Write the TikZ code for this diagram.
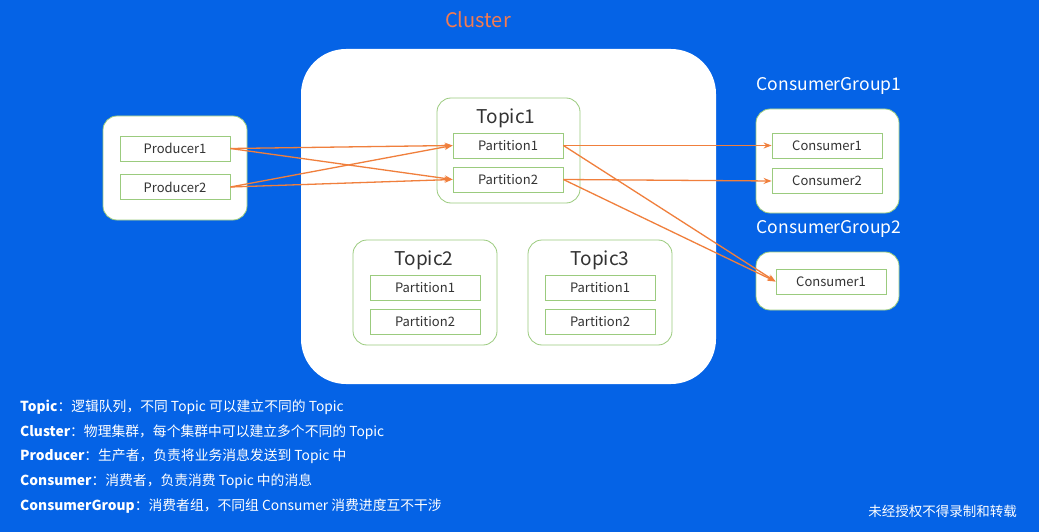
\documentclass[tikz,border=0pt]{standalone}
\usepackage{fontspec}
\setmainfont{Noto Sans CJK SC}
\usetikzlibrary{arrows.meta}
\definecolor{bg}{HTML}{0563E6}
\definecolor{gborder}{HTML}{9BCB7E}
\definecolor{arr}{HTML}{F07F3C}
\definecolor{ctitle}{HTML}{F47B4F}
\definecolor{txt}{HTML}{333333}
\begin{document}
\begin{tikzpicture}[x=1pt,y=-1pt,
  group/.style={draw=gborder, line width=0.8pt, fill=white, rounded corners=14pt, inner sep=0pt},
  part/.style={draw=gborder, line width=0.8pt, fill=white, minimum width=110pt, minimum height=25pt, inner sep=0pt, font=\fontsize{13}{15}\selectfont, text=txt},
  ttl/.style={font=\fontsize{19}{22}\selectfont, text=txt},
  wttl/.style={font=\fontsize{17.5}{21}\selectfont, text=white},
  desc/.style={anchor=west, text=white, font=\fontsize{13.8}{16}\selectfont, inner sep=0pt},
  flow/.style={draw=arr, line width=1.3pt, -{Stealth[length=8pt,width=6pt]}}]
\fill[bg] (0,0) rectangle (1039,532);
\useasboundingbox (0,0) rectangle (1039,532);
% cluster
\node[font=\fontsize{20}{24}\selectfont, text=ctitle] (ctitle) at (478,20) {Cluster};
\node[fill=white, rounded corners=45pt, minimum width=415pt, minimum height=335pt, inner sep=0pt] (cluster) at (508.5,216.5) {};
% producers
\node[group, minimum width=144pt, minimum height=104pt] (pg) at (175,168) {};
\node[part] (p1) at (175,148.5) {Producer1};
\node[part] (p2) at (175,187) {Producer2};
% topic1
\node[group, minimum width=143pt, minimum height=105pt] (t1) at (508.5,150.5) {};
\node[ttl] (t1t) at (506,118) {Topic1};
\node[part] (t1p1) at (508,145.5) {Partition1};
\node[part] (t1p2) at (508,179.5) {Partition2};
% topic2
\node[group, minimum width=144pt, minimum height=105pt] (t2) at (425,292.5) {};
\node[ttl] (t2t) at (424,260) {Topic2};
\node[part] (t2p1) at (425,287.5) {Partition1};
\node[part] (t2p2) at (425,321.5) {Partition2};
% topic3
\node[group, minimum width=144pt, minimum height=105pt] (t3) at (600,292.5) {};
\node[ttl] (t3t) at (600,260) {Topic3};
\node[part] (t3p1) at (600,287.5) {Partition1};
\node[part] (t3p2) at (600,321.5) {Partition2};
% consumer group 1
\node[wttl] (cg1t) at (829,86) {ConsumerGroup1};
\node[group, minimum width=143pt, minimum height=104pt] (cg1) at (827.5,161) {};
\node[part] (c11) at (827,145.5) {Consumer1};
\node[part] (c12) at (827,181) {Consumer2};
% consumer group 2
\node[wttl] (cg2t) at (829,229) {ConsumerGroup2};
\node[group, minimum width=143pt, minimum height=58pt] (cg2) at (827.5,281) {};
\node[part] (c21) at (831,281.5) {Consumer1};
% arrows
\draw[flow] (p1.east) -- (t1p1.west);
\draw[flow] (p1.east) -- (t1p2.west);
\draw[flow] (p2.east) -- (t1p1.west);
\draw[flow] (p2.east) -- (t1p2.west);
\draw[flow] (t1p1.east) -- (c11.west);
\draw[flow] (t1p2.east) -- (c12.west);
\draw[flow] (t1p1.east) -- (c21.west);
\draw[flow] (t1p2.east) -- (c21.west);
% descriptions
\node[desc] (d1) at (20,407) {\textbf{Topic}：逻辑队列，不同 Topic 可以建立不同的 Topic};
\node[desc] (d2) at (20,432) {\textbf{Cluster}：物理集群，每个集群中可以建立多个不同的 Topic};
\node[desc] (d3) at (20,456) {\textbf{Producer}：生产者，负责将业务消息发送到 Topic 中};
\node[desc] (d4) at (20,481) {\textbf{Consumer}：消费者，负责消费 Topic 中的消息};
\node[desc] (d5) at (20,506) {\textbf{ConsumerGroup}：消费者组，不同组 Consumer 消费进度互不干涉};
\node[anchor=east, text=white, font=\fontsize{13.5}{15}\selectfont, inner sep=0pt] (note) at (1017,511) {未经授权不得录制和转载};
\end{tikzpicture}
\end{document}
